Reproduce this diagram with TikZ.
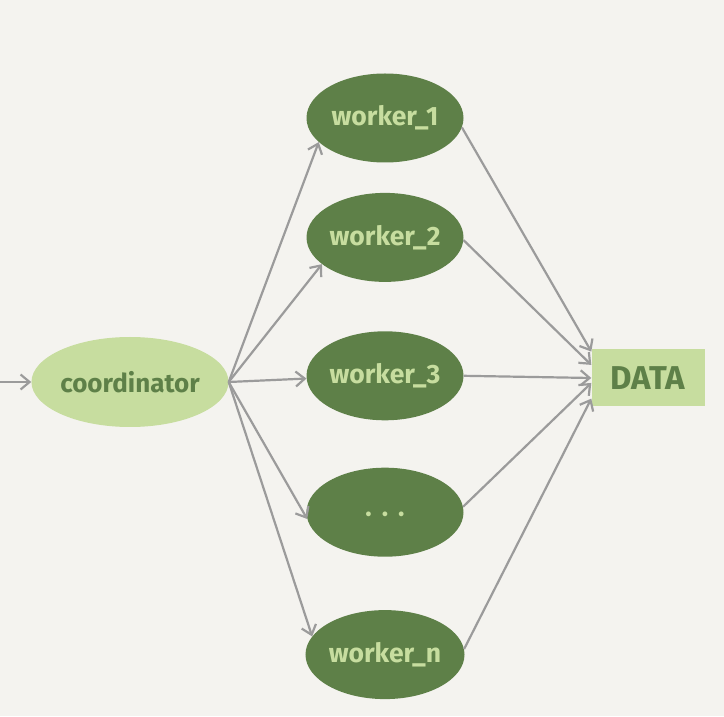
\documentclass[tikz,border=0pt]{standalone}
\usepackage{fontspec}
\setmainfont{Fira Sans}
\usepackage{tikz}
\usetikzlibrary{arrows.meta,positioning,shapes.geometric}

\definecolor{paper}{HTML}{F4F3EF}
\definecolor{leaf}{HTML}{C7DD9F}
\definecolor{moss}{HTML}{5E8048}
\definecolor{wire}{HTML}{9B9B9B}

\begin{document}
\begin{tikzpicture}[x=1pt, y=1pt, >={Straight Barb[length=9pt,width=15pt]},
    coord/.style={ellipse, fill=leaf, text=moss, inner sep=0pt, minimum width=197pt, minimum height=90pt, font=\fontsize{26}{29}\selectfont\bfseries},
    wrk/.style={ellipse, fill=moss, text=leaf, inner sep=0pt, minimum width=157pt, minimum height=89pt, font=\fontsize{26.5}{29}\selectfont\bfseries},
    store/.style={rectangle, fill=leaf, text=moss, inner sep=0pt, minimum width=113pt, minimum height=57pt, font=\fontsize{33}{36}\selectfont\bfseries},
    flow/.style={->, draw=wire, line width=2.2pt}]
    \fill[paper] (0,0) rectangle (724,716);
    \useasboundingbox (0,0) rectangle (724,716);

    \coordinate (in) at (0,334);
    \node[coord] (coord) at (130,334) {coordinator};
    \node[wrk] (w1) at (385,598) {worker\_1};
    \node[wrk] (w2) [below=30pt of w1] {worker\_2};
    \node[wrk] (w3) [below=49pt of w2] {worker\_3};
    \node[wrk] (wd) [below=47pt of w3] {\raisebox{-10pt}[0pt][0pt]{·\hspace{10pt}·\hspace{10pt}·}};
    \node[wrk] (wn) [below=53pt of wd] {worker\_n};
    \node[store] (data) at (648,338) {DATA};

    \draw[flow] (in) -- (coord.west);
    \draw[flow] (coord.east) -- (w1.200);
    \draw[flow] (coord.east) -- (w2.203);
    \draw[flow] (coord.east) -- (w3.182);
    \draw[flow] (coord.east) -- (wd.185);
    \draw[flow] (coord.east) -- (wn.166);

    \draw[flow] (w1.-7) -- (data.155);
    \draw[flow] (w2.-2) -- (data.167);
    \draw[flow] (w3.east) -- (data.180);
    \draw[flow] (wd.4) -- (data.185);
    \draw[flow] (wn.4) -- (data.200);
  \end{tikzpicture}
\end{document}
